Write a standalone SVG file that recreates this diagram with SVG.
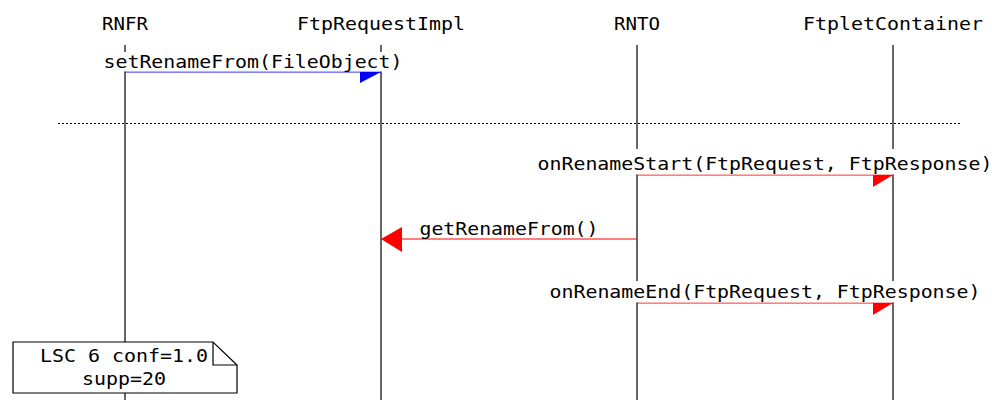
<svg xmlns="http://www.w3.org/2000/svg" width="992" height="400" viewBox="0 0 992 400">
<style>
text{font-family:"DejaVu Sans Mono","Liberation Mono",monospace;font-size:18px;fill:#000;text-anchor:middle}
.life{stroke:#000;stroke-width:1.2;fill:none}
.bg{fill:#fff;stroke:none}
.blue{stroke:#0000ff;stroke-width:1.2;fill:none}
.red{stroke:#ff0000;stroke-width:1.2;fill:none}
.note{fill:#fff;stroke:#000;stroke-width:1.2}
</style>
<rect width="992" height="400" fill="#fff"/>
<g id="RNFR">
<text x="125" y="30" textLength="46" lengthAdjust="spacingAndGlyphs">RNFR</text>
<line class="life" x1="125" y1="45" x2="125" y2="400"/>
</g>
<g id="FtpRequestImpl">
<text x="381" y="30" textLength="168" lengthAdjust="spacingAndGlyphs">FtpRequestImpl</text>
<line class="life" x1="381" y1="45" x2="381" y2="400"/>
</g>
<g id="RNTO">
<text x="637" y="30" textLength="46" lengthAdjust="spacingAndGlyphs">RNTO</text>
<line class="life" x1="637" y1="45" x2="637" y2="400"/>
</g>
<g id="FtpletContainer">
<text x="893" y="30" textLength="180" lengthAdjust="spacingAndGlyphs">FtpletContainer</text>
<line class="life" x1="893" y1="45" x2="893" y2="400"/>
</g>
<g id="separator">
<line x1="58" y1="123.5" x2="960" y2="123.5" stroke="#000" stroke-width="1" stroke-dasharray="2,2"/>
</g>
<g id="connectors">
<g id="m1">
<line class="blue" x1="125" y1="72" x2="381" y2="72"/>
<polygon points="381,72 360,72 360,83" fill="#0000ff"/>
<rect class="bg" x="103" y="52" width="299" height="19.4"/>
<text x="253" y="68" textLength="299" lengthAdjust="spacingAndGlyphs">setRenameFrom(FileObject)</text>
</g>
<g id="m2">
<line class="red" x1="637" y1="175" x2="893" y2="175"/>
<polygon points="893,175 873,175 873,187" fill="#ff0000"/>
<rect class="bg" x="537" y="149" width="455" height="25.4"/>
<text x="765" y="170" textLength="455" lengthAdjust="spacingAndGlyphs">onRenameStart(FtpRequest, FtpResponse)</text>
</g>
<g id="m3">
<line class="red" x1="637" y1="239" x2="381" y2="239"/>
<polygon points="381,239 402,227 402,252" fill="#ff0000"/>
<text x="509" y="235" textLength="179" lengthAdjust="spacingAndGlyphs">getRenameFrom()</text>
</g>
<g id="m4">
<line class="red" x1="637" y1="303" x2="893" y2="303"/>
<polygon points="893,303 873,303 873,315" fill="#ff0000"/>
<rect class="bg" x="549" y="281" width="431" height="21.4"/>
<text x="765" y="298" textLength="431" lengthAdjust="spacingAndGlyphs">onRenameEnd(FtpRequest, FtpResponse)</text>
</g>
</g>
<g id="note">
<path class="note" d="M13,342 H213 L237,365 V393 H13 Z"/>
<path d="M213,342 V365 H237" fill="none" stroke="#000" stroke-width="1.2"/>
<text x="124" y="362" textLength="168" lengthAdjust="spacingAndGlyphs">LSC 6 conf=1.0</text>
<text x="124" y="385" textLength="84" lengthAdjust="spacingAndGlyphs">supp=20</text>
</g>
</svg>
